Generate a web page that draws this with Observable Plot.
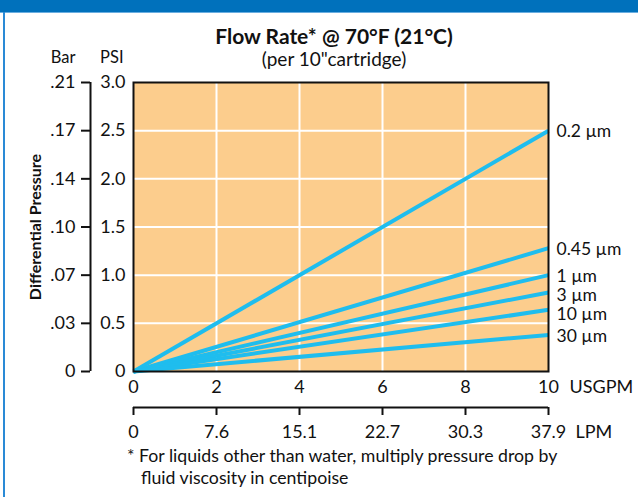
<!DOCTYPE html>
<html>
<head>
<meta charset="utf-8">
<script src="https://cdn.jsdelivr.net/npm/d3@7"></script>
<script src="https://cdn.jsdelivr.net/npm/@observablehq/plot@0.6"></script>
<style>
  html, body { margin: 0; padding: 0; background: #fff; }
  #page { position: relative; width: 638px; height: 497px; overflow: hidden; background: #fff;
          font-family: Lato, "Open Sans", sans-serif; color: #111; }
  #topbar { position: absolute; left: 0; top: 0; width: 638px; height: 12px; background: #0071bc;
            border-bottom: 1px solid #6aaee0; }
  #leftbar { position: absolute; left: 3px; top: 12px; width: 2px; height: 485px; background: #2a8ad6; }
  #chart { position: absolute; left: 0; top: 0; }
  .title { position: absolute; left: 0; width: 668px; text-align: center; white-space: nowrap; line-height: 1.2; }
  #t1 { top: 23px; font-size: 21px; font-weight: 700; }
  #t2 { top: 48px; font-size: 19px; }
  #foot { position: absolute; left: 127px; top: 445px; font-size: 17.7px; line-height: 22px;
          padding-left: 14px; text-indent: -14px; white-space: nowrap; }
</style>
</head>
<body>
<div id="page">
  <div id="topbar"></div>
  <div id="leftbar"></div>
  <div id="chart"></div>
  <div class="title" id="t1">Flow Rate* @ 70°F (21°C)</div>
  <div class="title" id="t2">(per 10"cartridge)</div>
  <div id="foot">* For liquids other than water, multiply pressure drop by<br>fluid viscosity in centipoise</div>
</div>
<script>
// ---- data ----
const series = ["0.2 µm", "0.45 µm", "1 µm", "3 µm", "10 µm", "30 µm"];
const flowUSGPM = [0, 10];
const psiAtZero = [0, 0, 0, 0, 0, 0];
const psiAtTen = [2.5, 1.28, 1.0, 0.82, 0.64, 0.38];

const xTicks = [0, 2, 4, 6, 8, 10];
const lpmLabels = ["0", "7.6", "15.1", "22.7", "30.3", "37.9"];
const psiTicks = [0, 0.5, 1, 1.5, 2, 2.5, 3];
const psiLabels = ["0", "0.5", "1.0", "1.5", "2.0", "2.5", "3.0"];
const barLabels = ["0", ".03", ".07", ".10", ".14", ".17", ".21"];
const gridX = [2, 4, 6, 8];
const gridY = [0.5, 1, 1.5, 2, 2.5];

// ---- tables ----
const rows = [];
series.forEach((s, i) => {
  rows.push({size: s, flow: flowUSGPM[0], psi: psiAtZero[i]});
  rows.push({size: s, flow: flowUSGPM[1], psi: psiAtTen[i]});
});
// end labels, pushed apart so that they do not collide (min gap in PSI units)
const minGap = 0.2;
const ends = series.map((s, i) => ({size: s, flow: flowUSGPM[1], psi: psiAtTen[i], labelPsi: psiAtTen[i]}))
  .sort((a, b) => b.psi - a.psi);
for (let i = 1; i < ends.length; i++) {
  ends[i].labelPsi = Math.min(ends[i].labelPsi, ends[i - 1].labelPsi - minGap);
}

const font = "Lato, 'Open Sans', sans-serif";
const ink = "#111";
const fs = 18;

const chart = Plot.plot({
  width: 638,
  height: 497,
  marginLeft: 133,
  marginRight: 90,
  marginTop: 82,
  marginBottom: 126,
  x: {domain: [0, 10]},
  y: {domain: [0, 3]},
  style: {fontFamily: font, fontSize: fs + "px", color: ink, background: "transparent", overflow: "visible"},
  marks: [
    Plot.frame({fill: "#fccd8d"}),
    Plot.ruleX(gridX, {stroke: "white", strokeWidth: 2}),
    Plot.ruleY(gridY, {stroke: "white", strokeWidth: 2}),
    Plot.line(rows, {x: "flow", y: "psi", z: "size", stroke: "#1fbdee", strokeWidth: 4, strokeLinecap: "butt"}),
    Plot.frame({stroke: ink, strokeWidth: 2}),
    // PSI axis
    Plot.axisY({ticks: psiTicks, tickSize: 0, tickPadding: 8, label: null,
      tickFormat: d => psiLabels[psiTicks.indexOf(d)], fontSize: fs}),
    // Bar axis
    Plot.axisY({ticks: psiTicks, tickSize: 9, tickPadding: 6, dx: -43, strokeWidth: 2, label: null,
      tickFormat: d => barLabels[psiTicks.indexOf(d)], fontSize: fs}),
    Plot.ruleX([0], {y1: 0, y2: 3, dx: -43, stroke: ink, strokeWidth: 2}),
    // USGPM axis
    Plot.axisX({ticks: xTicks, tickSize: 0, tickPadding: 9, label: null, fontSize: fs}),
    // LPM axis
    Plot.axisX({ticks: xTicks, tickSize: 8, tickPadding: 10, dy: 36, strokeWidth: 2, label: null,
      tickFormat: d => lpmLabels[xTicks.indexOf(d)], fontSize: fs}),
    Plot.ruleY([0], {x1: 0, x2: 10, dy: 36, stroke: ink, strokeWidth: 2}),
    // series labels
    Plot.text(ends, {x: "flow", y: "labelPsi", text: "size", dx: 8, dy: 1, textAnchor: "start", fontSize: 17.5, fill: ink}),
    // unit labels
    Plot.text(["USGPM"], {x: 10, y: 0, textAnchor: "start", lineAnchor: "top", dx: 21, dy: 9, fontSize: fs, fill: ink}),
    Plot.text(["LPM"], {x: 10, y: 0, textAnchor: "start", lineAnchor: "top", dx: 27, dy: 54, fontSize: fs, fill: ink}),
    Plot.text(["PSI"], {x: 0, y: 3, textAnchor: "end", lineAnchor: "middle", dx: -10, dy: -25, fontSize: 16.5, fill: ink}),
    Plot.text(["Bar"], {x: 0, y: 3, textAnchor: "end", lineAnchor: "middle", dx: -58, dy: -25, fontSize: 16.5, fill: ink}),
    Plot.text(["Differential Pressure"], {frameAnchor: "left", textAnchor: "middle", lineAnchor: "middle", rotate: -90, dx: -98, fontSize: 16, fontWeight: "bold", fill: ink})
  ]
});
document.getElementById("chart").appendChild(chart);
</script>
</body>
</html>
